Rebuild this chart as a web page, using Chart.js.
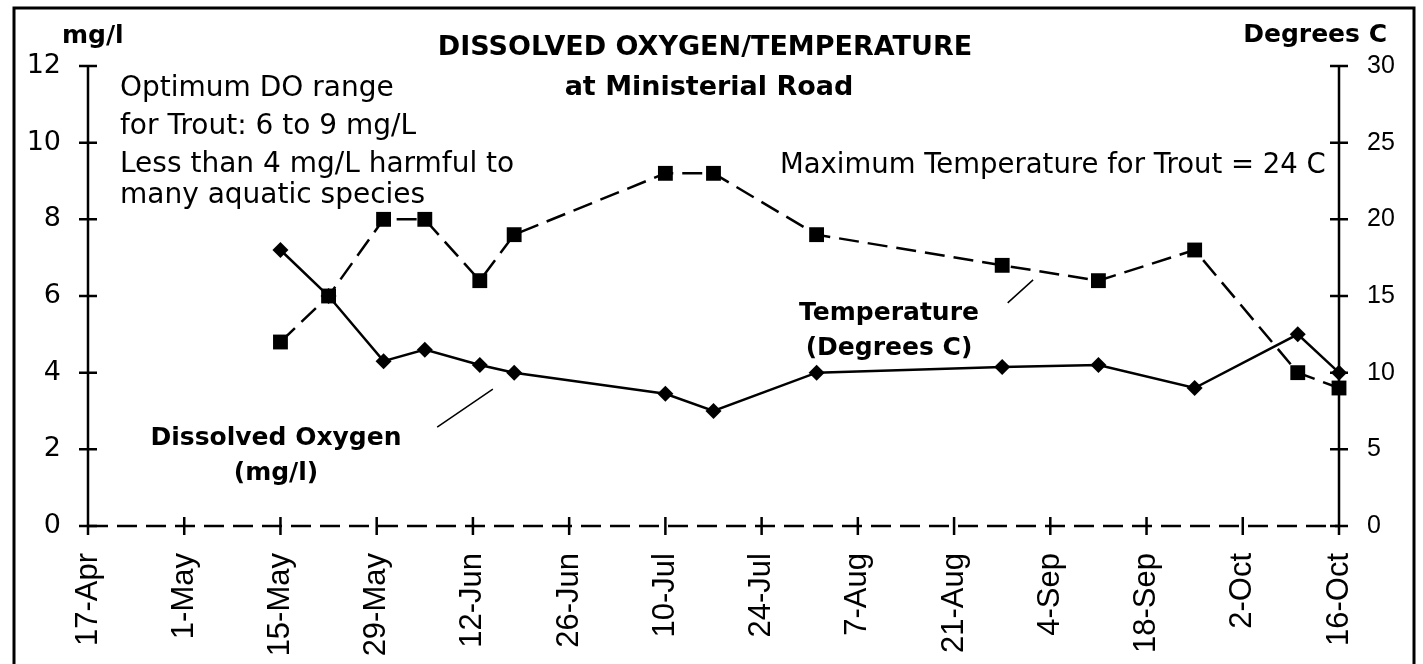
<!DOCTYPE html>
<html>
<head>
<meta charset="utf-8">
<title>Dissolved Oxygen / Temperature at Ministerial Road</title>
<script src="https://cdn.jsdelivr.net/npm/chart.js@4.4.1/dist/chart.umd.min.js"></script>
<style>
    html, body { margin: 0; padding: 0; background: #ffffff; }
    #wrap { position: relative; width: 1423px; height: 664px; }
</style>
</head>
<body>
<div id="wrap"><canvas id="kt_chart_do_temp" width="1423" height="664"></canvas></div>
<script>
"use strict";

// Sampling dates and readings
var sampleDates = ['15-May', '22-May', '30-May', '5-Jun', '13-Jun', '18-Jun', '10-Jul', '17-Jul', '1-Aug', '28-Aug', '11-Sep', '25-Sep', '10-Oct', '16-Oct'];
var oxygenValues = [7.2, 6.0, 4.3, 4.6, 4.2, 4.0, 3.45, 3.0, 4.0, 4.15, 4.2, 3.6, 5.0, 4.0];
var temperatureValues = [12, 15, 20, 20, 16, 19, 23, 23, 19, 17, 16, 18, 10, 9];

// Axis tick labels
var dateTicks = ['17-Apr', '1-May', '15-May', '29-May', '12-Jun', '26-Jun', '10-Jul', '24-Jul', '7-Aug', '21-Aug', '4-Sep', '18-Sep', '2-Oct', '16-Oct'];
var oxygenTicks = [0, 2, 4, 6, 8, 10, 12];
var temperatureTicks = [0, 5, 10, 15, 20, 25, 30];

// Fonts
var gothicFont = '"DejaVu Sans", sans-serif';
var boldFont = '"DejaVu Sans", sans-serif';
var helvFont = '"Liberation Sans", Arial, sans-serif';

// day offset from the first tick (17-Apr)
var monthStart = { Jan: 0, Feb: 31, Mar: 59, Apr: 90, May: 120, Jun: 151, Jul: 181, Aug: 212, Sep: 243, Oct: 273, Nov: 304, Dec: 334 };
var dayOfYear = function (label) {
    var parts = label.split('-');
    return monthStart[parts[1]] + parseInt(parts[0], 10);
};
var dayOffset = function (label) {
    return dayOfYear(label) - dayOfYear(dateTicks[0]);
};

var toPoints = function (values) {
    var pts = [];
    for (var i = 0; i < values.length; i++) {
        pts.push({ x: dayOffset(sampleDates[i]), y: values[i] });
    }
    return pts;
};

// Axes, frame and notes are drawn by hand
var decorPlugin = {
    id: 'decor',
    afterDraw: function (chart) {
        var ctx = chart.ctx;
        var area = chart.chartArea;
        var xs = chart.scales.x, ys = chart.scales.y, ys2 = chart.scales.y2;
        var half = 9;

        ctx.save();
        ctx.strokeStyle = '#000';
        ctx.fillStyle = '#000';

        // outer frame
        ctx.lineWidth = 3;
        ctx.strokeRect(14, 8, 1400, 700);

        // left axis
        ctx.lineWidth = 2.5;
        ctx.beginPath();
        ctx.moveTo(area.left, area.top);
        ctx.lineTo(area.left, area.bottom);
        oxygenTicks.forEach(function (v) {
            var py = ys.getPixelForValue(v);
            ctx.moveTo(area.left - half, py);
            ctx.lineTo(area.left + half, py);
        });
        // right axis
        ctx.moveTo(area.right, area.top);
        ctx.lineTo(area.right, area.bottom);
        temperatureTicks.forEach(function (v) {
            var py = ys2.getPixelForValue(v);
            ctx.moveTo(area.right - half, py);
            ctx.lineTo(area.right + half, py);
        });
        // x ticks
        dateTicks.forEach(function (d) {
            var px = xs.getPixelForValue(dayOffset(d));
            ctx.moveTo(px, area.bottom - half);
            ctx.lineTo(px, area.bottom + half);
        });
        ctx.stroke();

        // dashed x axis
        ctx.beginPath();
        ctx.setLineDash([20, 9]);
        ctx.moveTo(area.left, area.bottom);
        ctx.lineTo(area.right, area.bottom);
        ctx.stroke();
        ctx.setLineDash([]);

        // leader lines
        ctx.lineWidth = 1.5;
        ctx.beginPath();
        ctx.moveTo(xs.getPixelForValue(50.8), ys.getPixelForValue(2.58));
        ctx.lineTo(xs.getPixelForValue(58.9), ys.getPixelForValue(3.57));
        ctx.moveTo(xs.getPixelForValue(133.8), ys.getPixelForValue(5.82));
        ctx.lineTo(xs.getPixelForValue(137.5), ys.getPixelForValue(6.42));
        ctx.stroke();

        // titles
        ctx.textBaseline = 'alphabetic';
        ctx.textAlign = 'center';
        ctx.font = 'bold 27px ' + boldFont;
        ctx.fillText('DISSOLVED OXYGEN/TEMPERATURE', 705, 55);
        ctx.fillText('at Ministerial Road', 709, 95);

        ctx.font = 'bold 25px ' + boldFont;
        ctx.textAlign = 'left';
        ctx.fillText('mg/l', 62, 43);
        ctx.textAlign = 'right';
        ctx.fillText('Degrees C', 1387, 42);

        ctx.textAlign = 'center';
        ctx.fillText('Temperature', 889, 320);
        ctx.fillText('(Degrees C)', 889, 355);
        ctx.fillText('Dissolved Oxygen', 276, 445);
        ctx.fillText('(mg/l)', 276, 480);

        // notes
        ctx.font = '28px ' + gothicFont;
        ctx.textAlign = 'left';
        ctx.fillText('Optimum DO range', 120, 96);
        ctx.fillText('for Trout: 6 to 9 mg/L', 120, 134);
        ctx.fillText('Less than 4 mg/L harmful to', 120, 172);
        ctx.fillText('many aquatic species', 120, 203);
        ctx.font = '27.5px ' + gothicFont;
        ctx.fillText('Maximum Temperature for Trout = 24 C', 780, 173);

        ctx.restore();
    }
};

var ctx = document.getElementById('kt_chart_do_temp').getContext('2d');

var chart = new Chart(ctx, {
    type: 'line',
    data: {
        datasets: [{
            label: 'Temperature (Degrees C)',
            data: toPoints(temperatureValues),
            yAxisID: 'y2',
            order: 0,
            borderColor: '#000',
            borderWidth: 2.5,
            borderDash: [20, 9],
            pointStyle: 'rect',
            pointRadius: 10.5,
            pointBackgroundColor: '#000',
            pointBorderColor: '#000',
            pointBorderWidth: 0,
            tension: 0,
            clip: false
        }, {
            label: 'Dissolved Oxygen (mg/l)',
            data: toPoints(oxygenValues),
            yAxisID: 'y',
            order: 1,
            borderColor: '#000',
            borderWidth: 2.5,
            pointStyle: 'rectRot',
            pointRadius: 8,
            pointBackgroundColor: '#000',
            pointBorderColor: '#000',
            pointBorderWidth: 0,
            tension: 0,
            clip: false
        }]
    },
    options: {
        responsive: false,
        animation: false,
        devicePixelRatio: 1,
        layout: { padding: { top: 66, left: 0, right: 0, bottom: 0 } },
        plugins: {
            legend: { display: false },
            title: { display: false },
            tooltip: { enabled: false }
        },
        scales: {
            x: {
                type: 'linear',
                min: 0,
                max: dayOffset(dateTicks[dateTicks.length - 1]),
                grid: { display: false, drawTicks: false },
                border: { display: false },
                afterBuildTicks: function (scale) {
                    scale.ticks = dateTicks.map(function (d) { return { value: dayOffset(d) }; });
                },
                afterFit: function (scale) { scale.height = 138; },
                ticks: {
                    autoSkip: false,
                    minRotation: 90,
                    maxRotation: 90,
                    padding: 27,
                    color: '#000',
                    font: { family: helvFont, size: 31 },
                    callback: function (value, index) { return dateTicks[index]; }
                }
            },
            y: {
                position: 'left',
                min: 0,
                max: 12,
                grid: { display: false, drawTicks: false },
                border: { display: false },
                afterBuildTicks: function (scale) {
                    scale.ticks = oxygenTicks.map(function (v) { return { value: v }; });
                },
                afterFit: function (scale) { scale.width = 88; },
                ticks: {
                    padding: 27,
                    color: '#000',
                    font: { family: gothicFont, size: 27 }
                }
            },
            y2: {
                position: 'right',
                min: 0,
                max: 30,
                grid: { display: false, drawTicks: false },
                border: { display: false },
                afterBuildTicks: function (scale) {
                    scale.ticks = temperatureTicks.map(function (v) { return { value: v }; });
                },
                afterFit: function (scale) { scale.width = 84; },
                ticks: {
                    padding: 28,
                    color: '#000',
                    font: { family: helvFont, size: 25 }
                }
            }
        }
    },
    plugins: [decorPlugin]
});
</script>
</body>
</html>
